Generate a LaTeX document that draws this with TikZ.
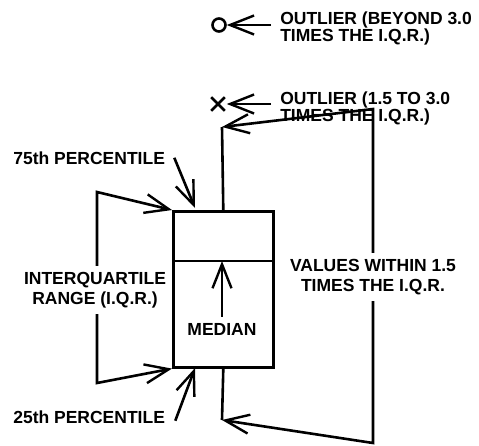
\documentclass[tikz,border=0pt]{standalone}
\usepackage{fontspec}
\setmainfont{Liberation Sans}
\usepackage{tikz}
\usetikzlibrary{positioning,arrows.meta,shapes.misc}

\begin{document}
\begin{tikzpicture}[
  x=1pt, y=-1pt,
  font=\fontsize{17.5}{20}\selectfont\bfseries,
  line width=2.6pt,
  >={Straight Barb[length=24pt,width=19pt,line width=2.4pt]},
  lbl/.style={inner sep=0pt, align=left},
  gaplbl/.style={inner sep=5pt, align=center},
]
  \useasboundingbox (0,0) rectangle (479,445);

  % Box
  \node[draw, minimum width=100pt, minimum height=156pt, inner sep=0pt,
        anchor=north west] (box) at (172,210) {};
  \coordinate (medianpt) at (222,261);
  \draw (box.west |- medianpt) -- (box.east |- medianpt);

  % Whiskers
  \coordinate (whiskTop) at (222,127);
  \coordinate (whiskBot) at (222,420);
  \draw (box.north) -- (whiskTop);
  \draw (box.south) -- (whiskBot);

  % Outliers
  \node[circle, draw, minimum size=13pt, inner sep=0pt] (farout) at (219,25) {};
  \node[cross out, draw, minimum size=11pt, inner sep=0pt] (nearout) at (218,104) {};
  \coordinate (farTail) at (271,25);
  \coordinate (nearTail) at (271,104);
  \draw[->] (farTail) -- (farout.east);
  \draw[->] (nearTail) -- ([xshift=2pt]nearout.east);
  \node[lbl, anchor=base west, font=\fontsize{17.5}{17}\selectfont\bfseries]
    (farlbl) at (279,41) {OUTLIER (BEYOND 3.0\\TIMES THE I.Q.R.)};
  \node[lbl, anchor=base west, font=\fontsize{17.5}{17}\selectfont\bfseries]
    (nearlbl) at (279,121) {OUTLIER (1.5 TO 3.0\\TIMES THE I.Q.R.)};

  % Values within 1.5 I.Q.R.
  \coordinate (rTop) at (373,109);
  \coordinate (rBot) at (373,443);
  \node[gaplbl] (within) at (373,277) {VALUES WITHIN 1.5\\TIMES THE I.Q.R.};
  \draw[->, line join=miter] (within.north) -- (rTop) -- (whiskTop);
  \draw[->, line join=miter] (within.south) -- (rBot) -- (whiskBot);

  % Interquartile range
  \coordinate (lTop) at (97,192);
  \coordinate (lBot) at (97,383);
  \node[gaplbl] (iqr) at (95,290) {INTERQUARTILE\\RANGE (I.Q.R.)};
  \draw[->, line join=miter] (iqr.north -| lTop) -- (lTop) -- (box.north west);
  \draw[->, line join=miter] (iqr.south -| lBot) -- (lBot) -- (box.south west);

  % Percentiles
  \node[lbl, anchor=base west] (q3lbl) at (12,164) {75th PERCENTILE};
  \node[lbl, anchor=base west] (q1lbl) at (12,423) {25th PERCENTILE};
  \coordinate (q3tip) at (195,208);
  \coordinate (q1tip) at (195,368);
  \draw[->] ([xshift=8pt]q3lbl.east) -- (q3tip);
  \draw[->] ([xshift=9pt,yshift=-4pt]q1lbl.east) -- (q1tip);

  % Median
  \node[gaplbl] (median) at (222,329) {MEDIAN};
  \draw[->] (median.north) -- (medianpt);
\end{tikzpicture}
\end{document}
